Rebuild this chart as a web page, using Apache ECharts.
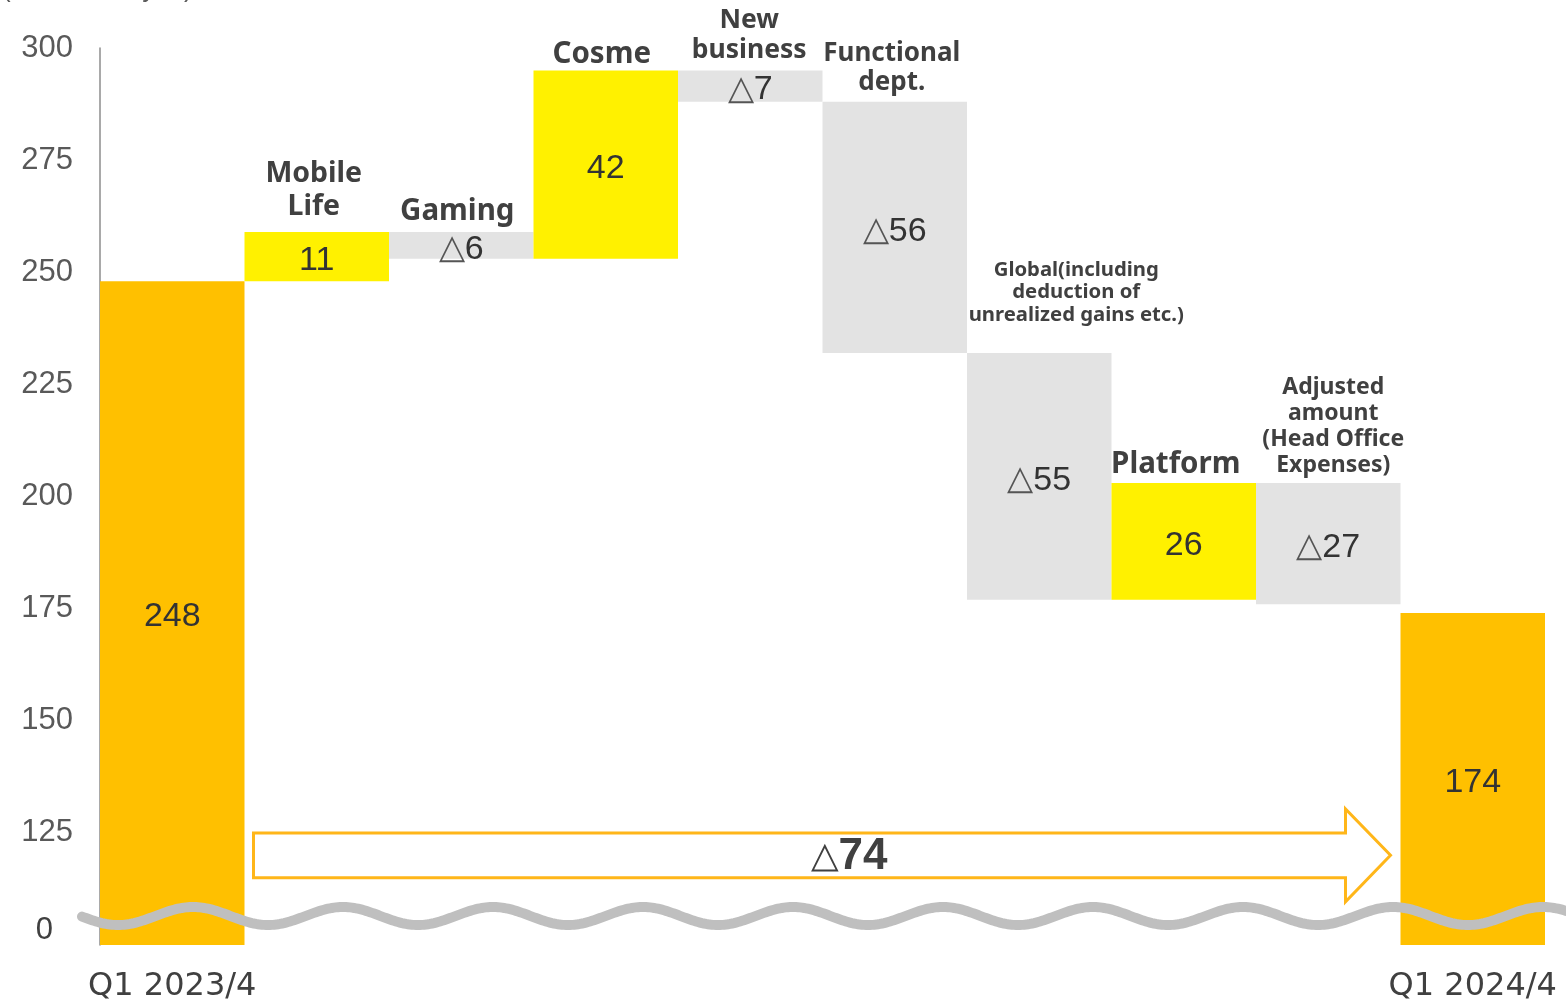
<!DOCTYPE html>
<html>
<head>
<meta charset="utf-8">
<script src="https://cdn.jsdelivr.net/npm/echarts@6/dist/echarts.min.js"></script>
<style>
html,body{margin:0;padding:0;background:#fff;}
#chart{width:1566px;height:1006px;}
</style>
</head>
<body>
<div id="chart"></div>
<script>
// ---- data ----
const categories = ['Q1 2023/4', 'Mobile Life', 'Gaming', 'Cosme', 'New business', 'Functional dept.',
  'Global(including deduction of unrealized gains etc.)', 'Platform', 'Adjusted amount (Head Office Expenses)', 'Q1 2024/4'];
const nameLabels = ['', 'Mobile\nLife', 'Gaming', 'Cosme', 'New\nbusiness', 'Functional\ndept.',
  'Global(including\ndeduction of\nunrealized gains etc.)', 'Platform', 'Adjusted\namount\n(Head Office\nExpenses)', ''];
const changes = [248, 11, -6, 42, -7, -56, -55, 26, -27, 174];
const kinds = ['total', 'up', 'down', 'up', 'down', 'down', 'down', 'up', 'down', 'total'];
const totalChange = -74;
const axisBreakValue = 100;   // bottom of the broken axis, shown as "0"
const yMax = 300;
const yInterval = 25;
const unitText = '(100 million yen)';

// ---- build waterfall ----
const baseVals = [], heightVals = [], topVals = [];
let running = 0;
changes.forEach((v, i) => {
  if (kinds[i] === 'total') {
    baseVals.push(0); heightVals.push(v); topVals.push(v); running = v;
  } else if (v >= 0) {
    baseVals.push(running); heightVals.push(v); running += v; topVals.push(running);
  } else {
    baseVals.push(running + v); heightVals.push(-v); topVals.push(running); running += v;
  }
});

const colorFor = {total: '#FFC000', up: '#FFF100', down: '#E3E3E3'};
const nameColor = '#404040';
const nameStyle = {
  1: {fontSize: 28.5, lineHeight: 33, distance: 9, offset: [-3, 0]},
  2: {fontSize: 29.5, lineHeight: 34, distance: 3, offset: [-4, 0]},
  3: {fontSize: 29.5, lineHeight: 34, distance: -1, offset: [-4, 0]},
  4: {fontSize: 26.5, lineHeight: 30, distance: 5, offset: [-1, 0]},
  5: {fontSize: 26, lineHeight: 29, distance: 5, offset: [-3, 0]},
  6: {fontSize: 20.3, lineHeight: 22.5, distance: 27, offset: [37, 0]},
  7: {fontSize: 29.5, lineHeight: 34, distance: 1, offset: [-8, 0]},
  8: {fontSize: 23, lineHeight: 26.3, distance: 4, offset: [5, 0]}
};

const valueLabel = (v) => v < 0 ? '{tri|△}' + Math.abs(v) : String(v);

const chart = echarts.init(document.getElementById('chart'), null, {renderer: 'canvas'});
const option = {
  animation: false,
  grid: {left: 100, right: 21, top: 48, bottom: 61, containLabel: false},
  graphic: [{
    type: 'text', left: 2, top: -23,
    style: {text: unitText, font: '26px "Liberation Sans", Arial', fill: '#595959'}
  }],
  xAxis: {
    type: 'category',
    data: categories,
    axisLine: {show: false},
    axisTick: {show: false},
    axisLabel: {
      interval: (idx) => idx === 0 || idx === categories.length - 1,
      margin: 26,
      fontFamily: 'DejaVu Sans',
      fontSize: 32,
      color: '#404040'
    }
  },
  yAxis: {
    type: 'value',
    min: axisBreakValue, max: yMax, interval: yInterval,
    splitLine: {show: false},
    axisTick: {show: false},
    axisLine: {show: true, lineStyle: {color: '#8c8c8c', width: 1.5}},
    axisLabel: {
      margin: 27,
      fontFamily: 'Liberation Sans',
      fontSize: 31,
      color: '#595959',
      formatter: (v) => v === axisBreakValue ? '{z|0}' : String(v),
      rich: {z: {fontFamily: 'Liberation Sans', fontSize: 31, color: '#404040', padding: [0, 20, 30, 0]}}
    }
  },
  series: [
    {
      type: 'bar', stack: 'w', barWidth: '100%', barCategoryGap: '0%',
      itemStyle: {color: 'transparent'},
      data: baseVals,
      silent: true
    },
    {
      type: 'bar', stack: 'w', barWidth: '100%', barCategoryGap: '0%',
      data: heightVals.map((h, i) => ({
        value: h,
        itemStyle: {color: colorFor[kinds[i]]},
        label: {formatter: valueLabel(changes[i])}
      })),
      label: {
        show: true, position: 'inside', offset: [0, 4],
        fontFamily: 'Liberation Sans', fontSize: 34, color: '#333333',
        rich: {tri: {fontFamily: 'DejaVu Sans', fontSize: 34, color: '#555555', fontWeight: 'lighter'}}
      }
    },
    {
      type: 'scatter', symbolSize: 0, silent: true,
      itemStyle: {opacity: 1},
      data: topVals.map((t, i) => {
        const s = nameStyle[i];
        if (!s) return {value: [i, t], label: {show: false}};
        return {
          value: [i, t],
          label: {
            show: true, position: 'top', formatter: nameLabels[i],
            color: nameColor, fontFamily: 'Noto Sans', fontWeight: 'bold', align: 'center',
            fontSize: s.fontSize, lineHeight: s.lineHeight, distance: s.distance, offset: s.offset
          }
        };
      })
    },
    {
      type: 'custom', z: 5, silent: true,
      data: [[1, categories.length - 1]],
      renderItem: (params, api) => {
        const bw = api.size([1, 0])[0];
        const x0 = api.coord([api.value(0), 0])[0] - bw / 2 + 9;
        const x1 = api.coord([api.value(1), 0])[0] - bw / 2 - 10;
        const hx = x1 - 45;
        const yt = api.coord([0, 125])[1];
        const yb = api.coord([0, 115])[1];
        const ym = (yt + yb) / 2;
        const yht = yt - 24, yhb = yb + 24;
        return {
          type: 'group',
          children: [
            {
              type: 'polygon',
              shape: {points: [[x0, yt], [hx, yt], [hx, yht], [x1, ym], [hx, yhb], [hx, yb], [x0, yb]]},
              style: {fill: '#ffffff', stroke: '#FFB619', lineWidth: 3}
            },
            {
              type: 'text',
              style: {
                x: (x0 + x1) / 2 + 27, y: ym + 2,
                text: '{t|△}{b|' + Math.abs(totalChange) + '}',
                align: 'center', verticalAlign: 'middle',
                rich: {
                  t: {fontFamily: 'DejaVu Sans', fontSize: 36, fill: '#404040', fontWeight: 'lighter'},
                  b: {fontFamily: 'Liberation Sans', fontSize: 44, fontWeight: 'bold', fill: '#404040'}
                }
              }
            }
          ]
        };
      }
    },
    {
      type: 'custom', z: 6, silent: true, clip: false,
      data: [[0, axisBreakValue]],
      renderItem: (params, api) => {
        const cs = params.coordSys;
        const yc = cs.y + cs.height - 29;
        const pts = [];
        for (let x = cs.x - 18; x <= cs.x + cs.width + 30; x += 2) {
          pts.push([x, yc - 9 * Math.cos(2 * Math.PI * (x - 193) / 150)]);
        }
        return {
          type: 'polyline',
          shape: {points: pts},
          style: {stroke: '#BFBFBF', lineWidth: 10, fill: null, lineCap: 'round', lineJoin: 'round'}
        };
      }
    }
  ]
};
chart.setOption(option);
</script>
</body>
</html>
